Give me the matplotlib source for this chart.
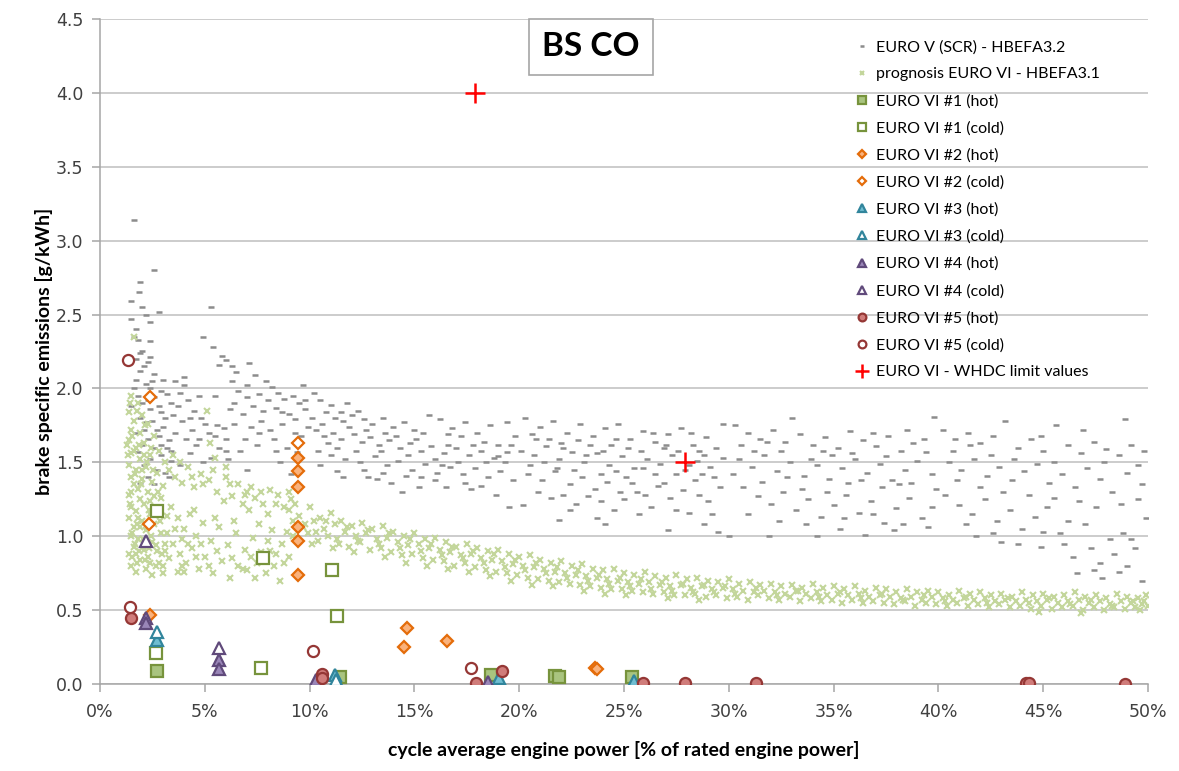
import matplotlib
matplotlib.use('Agg')
import matplotlib.pyplot as plt
from matplotlib.ticker import FuncFormatter, MultipleLocator

# ---- data (x = % of rated engine power, y = g/kWh) ----
euro5_pts = [
    # 1.3 - 3.5 %
    (1.6, 3.14), (2.6, 2.80), (1.9, 2.72), (1.85, 2.65), (1.5, 2.59), (2.0, 2.55), (2.8, 2.52),
    (1.5, 2.47), (2.4, 2.45), (2.2, 2.50), (1.7, 2.40), (1.6, 2.35), (2.4, 2.32), (1.8, 2.33),
    (2.0, 2.25), (1.9, 2.24), (2.4, 2.21), (2.3, 2.18), (1.9, 2.12), (2.6, 2.10), (1.7, 2.06),
    (2.2, 2.03), (2.4, 2.00), (2.9, 1.98), (1.8, 1.95), (2.6, 1.94), (3.2, 1.96), (2.0, 1.90),
    (1.5, 1.88), (2.4, 1.86), (2.9, 1.84), (3.5, 1.82), (1.9, 1.80), (2.2, 1.77), (3.0, 1.74),
    (2.7, 1.72), (1.7, 1.70), (2.3, 1.66), (3.3, 1.65), (2.0, 1.62), (2.6, 1.60), (1.8, 1.57),
    (2.9, 1.55), (2.4, 1.52), (3.4, 1.51), (2.1, 1.48), (2.7, 1.45), (3.1, 1.43), (2.3, 1.40),
    (1.9, 1.36), (3.0, 2.06), (3.4, 1.90), (2.8, 1.68), (3.2, 1.60),
    (1.7, 2.20), (2.1, 2.15), (2.5, 2.05), (1.6, 2.00), (2.3, 1.92), (2.8, 1.88), (3.1, 1.80),
    (2.5, 1.78), (2.1, 1.72), (2.9, 1.62), (3.3, 1.40), (2.6, 1.35),
    # 3.5 - 6 %
    (3.6, 2.05), (3.8, 1.97), (4.0, 2.02), (3.7, 1.88), (4.2, 1.92), (4.5, 1.85), (3.9, 1.78),
    (4.4, 1.72), (4.8, 1.80), (5.0, 1.76), (4.1, 1.66), (4.6, 1.62), (5.2, 1.70), (5.5, 1.68),
    (4.3, 1.56), (5.7, 1.60), (3.8, 1.48), (5.3, 1.53), (4.9, 2.35), (5.3, 2.55), (5.4, 2.28),
    (5.8, 2.22), (6.0, 2.19), (5.7, 2.16), (4.7, 1.95), (5.9, 1.73), (6.0, 1.58), (4.0, 2.08),
    (3.6, 1.70), (4.3, 1.80), (3.4, 1.58), (4.7, 1.66), (5.6, 1.75), (4.9, 1.50), (5.5, 1.95),
    (6.0, 1.66),
    # 6 - 10 %
    (6.3, 2.15), (6.5, 2.11), (7.1, 2.17), (7.4, 2.09), (7.9, 2.05), (8.2, 2.01), (9.7, 2.02),
    (6.6, 1.98), (7.0, 1.94), (7.6, 1.96), (8.5, 1.97), (8.8, 1.93), (9.2, 1.95), (9.5, 1.90),
    (6.2, 1.86), (6.8, 1.83), (7.3, 1.88), (7.8, 1.85), (8.4, 1.87), (9.0, 1.83), (9.8, 1.86),
    (6.4, 1.76), (7.2, 1.74), (7.7, 1.78), (8.1, 1.72), (8.7, 1.76), (9.3, 1.79), (9.9, 1.74),
    (6.9, 1.66), (7.5, 1.62), (8.3, 1.66), (8.9, 1.60), (9.6, 1.68), (6.1, 1.52), (8.6, 1.50),
    (9.4, 1.57), (7.0, 1.45), (9.1, 1.42), (6.4, 1.90), (7.0, 2.02), (7.6, 1.70), (8.0, 1.92),
    (8.7, 1.84), (9.3, 1.70), (9.8, 1.92), (6.7, 1.58), (8.4, 1.58), (6.3, 2.05),
    # 10 - 20 %
    (10.2, 1.97), (10.5, 1.92), (11.0, 1.89), (11.5, 1.84), (11.8, 1.90), (12.3, 1.85),
    (10.8, 1.84), (11.2, 1.80), (11.6, 1.78), (12.0, 1.82), (12.6, 1.79), (13.0, 1.76),
    (13.5, 1.80), (14.0, 1.74), (14.5, 1.77), (15.0, 1.72), (15.7, 1.82), (16.2, 1.79),
    (16.8, 1.73), (17.4, 1.77), (18.0, 1.70), (18.6, 1.75), (19.4, 1.77), (19.8, 1.68),
    (10.3, 1.72), (10.7, 1.68), (11.1, 1.70), (11.5, 1.66), (12.1, 1.69), (12.5, 1.64),
    (12.9, 1.67), (13.3, 1.62), (13.8, 1.65), (14.3, 1.60), (14.8, 1.63), (15.3, 1.58),
    (15.8, 1.61), (16.4, 1.56), (17.0, 1.60), (17.6, 1.55), (18.2, 1.58), (18.8, 1.53),
    (19.4, 1.57), (10.4, 1.58), (11.0, 1.55), (11.7, 1.52), (12.4, 1.50), (13.1, 1.54),
    (13.7, 1.48), (14.2, 1.51), (14.9, 1.45), (15.5, 1.49), (16.1, 1.43), (16.7, 1.47),
    (17.3, 1.42), (17.9, 1.46), (18.5, 1.40), (19.1, 1.44), (19.7, 1.38), (12.8, 1.40),
    (13.2, 1.39), (13.9, 1.36), (15.2, 1.33), (16.5, 1.33), (17.7, 1.32), (18.9, 1.28),
    (19.5, 1.20), (11.3, 1.44), (16.0, 1.38), (14.6, 1.41), (10.9, 1.63), (12.2, 1.58),
    (13.6, 1.70), (15.1, 1.66), (16.6, 1.69), (18.3, 1.64), (19.0, 1.62), (17.1, 1.50),
    (10.1, 1.80), (10.6, 1.76), (11.3, 1.60), (11.9, 1.74), (12.7, 1.72), (13.4, 1.58),
    (14.1, 1.68), (14.7, 1.55), (15.4, 1.70), (16.0, 1.52), (16.6, 1.62), (17.2, 1.68),
    (17.8, 1.62), (18.4, 1.50), (19.0, 1.54), (19.6, 1.62), (10.5, 1.48), (11.6, 1.40),
    (12.6, 1.45), (13.5, 1.43), (14.4, 1.30), (15.3, 1.40), (16.3, 1.48), (17.4, 1.36),
    (18.2, 1.34), (19.3, 1.50),
    # 20 - 30 %
    (20.3, 1.80), (21.0, 1.74), (21.6, 1.78), (22.3, 1.70), (22.9, 1.76), (23.5, 1.68),
    (24.1, 1.73), (24.7, 1.76), (25.3, 1.66), (25.9, 1.71), (26.5, 1.64), (27.1, 1.69),
    (27.7, 1.73), (28.3, 1.62), (28.9, 1.67), (29.7, 1.76), (20.1, 1.58), (20.7, 1.55),
    (21.3, 1.61), (21.9, 1.52), (22.5, 1.57), (23.1, 1.50), (23.7, 1.56), (24.3, 1.48),
    (24.9, 1.54), (25.5, 1.46), (26.1, 1.52), (26.7, 1.49), (27.3, 1.55), (27.9, 1.45),
    (28.5, 1.51), (29.1, 1.47), (29.7, 1.53), (20.4, 1.42), (21.1, 1.38), (21.7, 1.44),
    (22.4, 1.35), (23.0, 1.40), (23.6, 1.32), (24.2, 1.37), (24.8, 1.30), (25.4, 1.36),
    (26.0, 1.28), (26.6, 1.34), (27.2, 1.26), (27.8, 1.31), (28.4, 1.38), (29.0, 1.24),
    (29.6, 1.33), (20.2, 1.21), (21.9, 1.11), (23.7, 1.12), (22.7, 1.22), (24.5, 1.18),
    (25.7, 1.15), (26.3, 1.20), (27.1, 1.04), (28.1, 1.16), (28.8, 1.08), (29.5, 1.03),
    (30.0, 1.00), (25.0, 1.25), (23.3, 1.27), (21.5, 1.26), (20.8, 1.66), (22.0, 1.63),
    (26.9, 1.60), (28.6, 1.58), (24.4, 1.62), (20.6, 1.69), (21.4, 1.66), (22.1, 1.60),
    (22.8, 1.65), (23.4, 1.62), (24.0, 1.58), (24.6, 1.66), (25.2, 1.60), (25.8, 1.58),
    (26.4, 1.70), (27.0, 1.62), (27.6, 1.58), (28.2, 1.70), (28.8, 1.55), (29.4, 1.60),
    (20.5, 1.48), (21.2, 1.50), (21.8, 1.46), (22.6, 1.45), (23.2, 1.55), (23.9, 1.42),
    (24.6, 1.44), (25.1, 1.40), (25.9, 1.46), (26.5, 1.42), (27.5, 1.42), (28.1, 1.48),
    (28.7, 1.42), (29.3, 1.40), (20.9, 1.30), (22.1, 1.28), (23.9, 1.24), (25.6, 1.30),
    (26.9, 1.36), (27.5, 1.18), (28.6, 1.28), (29.2, 1.15), (22.4, 1.18), (24.1, 1.08),
    # 30 - 40 %
    (30.3, 1.75), (30.9, 1.70), (31.5, 1.66), (32.1, 1.72), (32.7, 1.64), (33.4, 1.69),
    (34.0, 1.62), (34.6, 1.67), (35.2, 1.60), (35.8, 1.71), (36.4, 1.65), (37.0, 1.61),
    (37.6, 1.68), (38.2, 1.58), (38.8, 1.63), (39.4, 1.57), (39.8, 1.81), (33.0, 1.80),
    (30.5, 1.52), (31.1, 1.47), (31.7, 1.55), (32.3, 1.44), (32.9, 1.50), (33.6, 1.41),
    (34.2, 1.48), (34.8, 1.39), (35.4, 1.46), (36.0, 1.52), (36.6, 1.43), (37.2, 1.49),
    (37.8, 1.38), (38.4, 1.45), (39.0, 1.51), (39.7, 1.42), (30.7, 1.33), (31.4, 1.27),
    (32.0, 1.22), (32.6, 1.30), (33.2, 1.18), (33.8, 1.25), (34.4, 1.13), (35.0, 1.21),
    (35.6, 1.28), (36.2, 1.16), (36.8, 1.24), (37.4, 1.09), (38.0, 1.19), (38.6, 1.26),
    (39.2, 1.12), (31.9, 1.00), (34.2, 1.00), (35.3, 1.05), (36.5, 1.01), (37.9, 1.04),
    (39.5, 1.06), (31.2, 1.58), (34.9, 1.55), (38.1, 1.35), (30.6, 1.62), (31.8, 1.64),
    (32.5, 1.58), (33.9, 1.52), (34.5, 1.58), (35.9, 1.56), (36.9, 1.70), (37.5, 1.54),
    (38.5, 1.72), (39.3, 1.66), (30.2, 1.42), (31.6, 1.37), (32.8, 1.40), (33.5, 1.32),
    (34.7, 1.30), (35.7, 1.36), (36.3, 1.38), (37.3, 1.33), (38.7, 1.36), (39.9, 1.32),
    (30.9, 1.15), (32.4, 1.10), (33.7, 1.08), (35.5, 1.12), (36.9, 1.15), (38.3, 1.08),
    (39.7, 1.20),
    # 40 - 50 %
    (40.2, 1.72), (40.8, 1.66), (41.4, 1.70), (42.0, 1.63), (42.6, 1.68), (43.2, 1.78),
    (43.8, 1.60), (44.4, 1.66), (45.0, 1.58), (45.6, 1.75), (46.2, 1.62), (46.8, 1.56),
    (47.4, 1.64), (48.0, 1.59), (48.6, 1.55), (48.9, 1.79), (49.5, 1.48), (40.5, 1.50),
    (41.1, 1.45), (41.7, 1.52), (42.3, 1.41), (42.9, 1.47), (43.5, 1.38), (44.1, 1.44),
    (44.7, 1.49), (45.3, 1.36), (45.9, 1.42), (46.5, 1.33), (47.1, 1.46), (47.7, 1.39),
    (48.3, 1.30), (49.0, 1.43), (49.7, 1.35), (40.3, 1.28), (41.0, 1.21), (41.6, 1.15),
    (42.2, 1.25), (42.8, 1.10), (43.4, 1.18), (44.0, 1.05), (44.6, 1.13), (45.2, 1.20),
    (45.8, 1.02), (46.4, 0.86), (46.6, 0.75), (47.0, 1.08), (47.4, 0.77), (47.7, 0.82),
    (47.8, 0.72), (48.2, 0.98), (48.6, 0.76), (49.0, 0.80), (49.4, 0.92), (49.7, 0.70),
    (49.9, 1.12), (44.9, 0.93), (43.0, 0.96), (41.8, 1.00), (46.0, 0.95), (48.8, 1.02),
    (40.7, 1.58), (41.5, 1.62), (42.5, 1.55), (43.6, 1.52), (44.9, 1.68), (45.5, 1.50),
    (46.9, 1.72), (47.9, 1.50), (49.2, 1.62), (49.8, 1.58), (40.9, 1.38), (42.0, 1.33),
    (43.1, 1.30), (44.3, 1.28), (45.5, 1.26), (46.7, 1.24), (47.5, 1.20), (48.7, 1.22),
    (49.5, 1.25), (41.3, 1.08), (42.6, 1.02), (43.8, 0.95), (45.0, 1.03), (46.2, 1.10),
    (47.3, 0.92), (48.4, 0.88), (49.2, 0.98),
]

prog6_pts = [
    # 1.3 - 3.2 %
    (1.6, 2.35), (1.5, 1.95), (1.8, 1.90), (1.4, 1.84), (2.0, 1.82), (1.6, 1.78), (2.3, 1.76),
    (1.5, 1.72), (1.9, 1.70), (2.6, 1.68), (1.4, 1.65), (2.1, 1.63), (1.7, 1.60), (2.8, 1.58),
    (1.5, 1.56), (2.4, 1.55), (1.9, 1.52), (3.1, 1.50), (1.4, 1.48), (2.2, 1.47), (1.7, 1.45),
    (2.7, 1.43), (1.5, 1.40), (2.0, 1.39), (2.5, 1.37), (1.6, 1.35), (3.0, 1.34), (1.8, 1.32),
    (2.3, 1.30), (1.4, 1.28), (2.6, 1.27), (1.9, 1.25), (2.1, 1.22), (1.5, 1.20), (2.8, 1.19),
    (1.7, 1.17), (2.4, 1.15), (3.2, 1.14), (1.4, 1.12), (2.0, 1.10), (2.6, 1.08), (1.6, 1.06),
    (2.2, 1.04), (2.9, 1.02), (1.5, 1.00), (1.8, 0.98), (2.5, 0.96), (3.1, 0.95), (1.6, 0.93),
    (2.1, 0.91), (2.7, 0.90), (1.4, 0.88), (2.3, 0.86), (1.9, 0.84), (2.8, 0.82), (1.5, 0.80),
    (2.2, 0.78), (3.0, 0.80), (1.7, 0.76), (2.5, 0.74), (1.6, 1.58), (2.0, 1.45), (1.8, 1.12),
    (2.4, 1.24), (1.5, 1.30), (2.1, 1.55), (1.7, 0.88), (2.9, 1.26), (1.3, 1.62), (1.9, 1.06),
    (1.45, 1.90), (1.75, 1.85), (2.15, 1.75), (1.55, 1.68), (1.85, 1.62), (2.45, 1.60),
    (1.35, 1.55), (2.25, 1.50), (1.65, 1.42), (2.55, 1.45), (1.95, 1.35), (2.75, 1.30),
    (1.45, 1.22), (2.35, 1.18), (1.75, 1.08), (2.85, 1.10), (1.55, 1.02), (2.45, 1.00),
    (2.05, 0.98), (1.65, 0.95), (2.65, 0.94), (1.85, 0.90), (2.35, 0.92), (2.95, 0.88),
    (1.55, 0.86), (2.15, 0.84), (2.65, 0.80), (1.75, 0.82), (3.0, 0.75), (2.4, 0.82),
    # 3 - 9 %
    (3.3, 1.45), (3.6, 1.40), (3.9, 1.36), (4.2, 1.47), (4.5, 1.33), (4.8, 1.42), (5.1, 1.85),
    (5.25, 1.63), (5.5, 1.53), (6.0, 1.47), (5.2, 1.38), (5.6, 1.30), (6.3, 1.27), (6.6, 1.35),
    (7.0, 1.30), (7.2, 1.33), (7.4, 1.26), (7.8, 1.22), (8.1, 1.31), (8.5, 1.28), (8.8, 1.20),
    (9.1, 1.25), (6.8, 1.22), (5.9, 1.24), (3.4, 1.20), (3.7, 1.12), (4.0, 1.05), (4.3, 1.15),
    (4.6, 1.00), (4.9, 1.09), (5.3, 0.97), (5.7, 1.06), (6.1, 0.94), (6.5, 1.02), (6.9, 0.91),
    (7.3, 0.99), (7.7, 0.89), (8.0, 0.97), (8.4, 0.88), (8.7, 0.95), (9.0, 0.86), (3.5, 0.95),
    (3.8, 0.88), (4.1, 0.82), (4.4, 0.92), (4.7, 0.78), (5.0, 0.86), (5.4, 0.75), (5.8, 0.83),
    (6.2, 0.72), (6.6, 0.80), (7.0, 0.77), (7.5, 0.82), (7.9, 0.75), (8.3, 0.80), (8.6, 0.70),
    (3.2, 1.02), (3.9, 0.98), (4.5, 1.18), (5.5, 1.12), (6.4, 1.10), (7.6, 1.08), (8.2, 1.04),
    (9.2, 1.00), (3.3, 0.85), (4.0, 0.76), (6.0, 1.40), (7.1, 1.18), (8.0, 1.15),
    (3.5, 1.55), (3.8, 1.50), (4.4, 1.40), (4.9, 1.35), (5.4, 1.45), (6.2, 1.35), (6.9, 1.28),
    (7.7, 1.30), (8.4, 1.22), (9.0, 1.30), (3.6, 1.05), (4.2, 0.95), (4.8, 0.95), (5.6, 0.90),
    (6.3, 0.85), (7.2, 0.86), (8.1, 0.90), (8.8, 0.82), (3.9, 0.80), (4.6, 0.86), (5.2, 0.80),
    (6.8, 0.78), (7.4, 0.72), (3.1, 0.90), (3.7, 0.76),
    # 9 - 50 % band
    (9.0, 1.18), (9.2, 1.10), (8.9, 1.03), (9.5, 1.14), (9.7, 1.06), (9.4, 0.98),
    (10.0, 1.20), (10.2, 1.10), (9.9, 1.02), (10.1, 0.95), (10.5, 1.12), (10.7, 1.05),
    (10.4, 0.97), (11.0, 1.16), (11.2, 1.08), (10.9, 1.00), (11.1, 0.92), (11.5, 1.10),
    (11.7, 1.03), (11.4, 0.95), (12.0, 1.07), (12.2, 1.00), (11.9, 0.93), (12.1, 0.89),
    (12.5, 1.09), (12.7, 1.02), (12.4, 0.96), (13.0, 1.05), (13.2, 0.98), (12.9, 0.91),
    (13.5, 1.07), (13.7, 0.99), (13.4, 0.92), (13.6, 0.86), (14.0, 1.03), (14.2, 0.96),
    (13.9, 0.89), (14.5, 1.00), (14.7, 0.94), (14.4, 0.87), (14.6, 0.82), (15.0, 1.02),
    (15.2, 0.95), (14.9, 0.88), (15.5, 0.98), (15.7, 0.92), (15.4, 0.85), (15.6, 0.80),
    (16.0, 0.99), (16.2, 0.91), (15.9, 0.84), (16.5, 0.96), (16.7, 0.89), (16.4, 0.83),
    (16.6, 0.78), (17.0, 0.93), (17.2, 0.87), (16.9, 0.80), (17.5, 0.95), (17.7, 0.88),
    (17.4, 0.82), (17.6, 0.76), (18.0, 0.92), (18.2, 0.85), (17.9, 0.79), (18.5, 0.90),
    (18.7, 0.84), (18.4, 0.77), (18.6, 0.73), (19.0, 0.91), (19.2, 0.83), (18.9, 0.76),
    (19.5, 0.88), (19.7, 0.81), (19.4, 0.75), (19.6, 0.70), (20.0, 0.86), (20.2, 0.80),
    (19.9, 0.74), (20.5, 0.87), (20.7, 0.79), (20.4, 0.72), (20.6, 0.67), (21.0, 0.84),
    (21.2, 0.78), (20.9, 0.71), (21.5, 0.82), (21.7, 0.76), (21.4, 0.70), (21.6, 0.66),
    (22.0, 0.83), (22.2, 0.75), (21.9, 0.69), (22.5, 0.80), (22.7, 0.74), (22.4, 0.68),
    (23.0, 0.81), (23.2, 0.73), (22.9, 0.67), (23.1, 0.63), (23.5, 0.78), (23.7, 0.72),
    (23.4, 0.66), (24.0, 0.77), (24.2, 0.71), (23.9, 0.65), (24.1, 0.61), (24.5, 0.78),
    (24.7, 0.70), (24.4, 0.64), (25.0, 0.75), (25.2, 0.69), (24.9, 0.64), (25.1, 0.60),
    (25.5, 0.74), (25.7, 0.68), (25.4, 0.63), (26.0, 0.76), (26.2, 0.69), (25.9, 0.62),
    (26.5, 0.73), (26.7, 0.67), (26.4, 0.61), (27.0, 0.72), (27.2, 0.66), (26.9, 0.62),
    (27.1, 0.58), (27.5, 0.74), (27.7, 0.67), (27.4, 0.60), (28.0, 0.71), (28.2, 0.65),
    (27.9, 0.60), (28.5, 0.72), (28.7, 0.66), (28.4, 0.61), (28.6, 0.57), (29.0, 0.70),
    (29.2, 0.64), (28.9, 0.59), (29.5, 0.69), (29.7, 0.65), (29.4, 0.60), (30.0, 0.71),
    (30.2, 0.64), (29.9, 0.58), (30.5, 0.68), (30.7, 0.63), (30.4, 0.59), (31.0, 0.69),
    (31.2, 0.62), (30.9, 0.57), (31.5, 0.67), (31.7, 0.63), (31.4, 0.60), (32.0, 0.68),
    (32.2, 0.62), (31.9, 0.58), (32.5, 0.66), (32.7, 0.61), (32.4, 0.57), (33.0, 0.67),
    (33.2, 0.63), (32.9, 0.59), (33.5, 0.65), (33.7, 0.61), (33.4, 0.56), (34.0, 0.68),
    (34.2, 0.62), (33.9, 0.58), (34.5, 0.65), (34.7, 0.60), (34.4, 0.56), (35.0, 0.66),
    (35.2, 0.61), (34.9, 0.57), (35.5, 0.64), (35.7, 0.60), (35.4, 0.55), (36.0, 0.66),
    (36.2, 0.61), (35.9, 0.57), (36.5, 0.63), (36.7, 0.59), (36.4, 0.55), (37.0, 0.65),
    (37.2, 0.60), (36.9, 0.56), (37.5, 0.64), (37.7, 0.59), (37.4, 0.55), (38.0, 0.62),
    (38.2, 0.58), (37.9, 0.54), (38.5, 0.64), (38.7, 0.59), (38.4, 0.56), (39.0, 0.62),
    (39.2, 0.57), (38.9, 0.53), (39.5, 0.63), (39.7, 0.59), (39.4, 0.55), (40.0, 0.62),
    (40.2, 0.58), (39.9, 0.54), (40.5, 0.60), (40.7, 0.57), (40.4, 0.53), (41.0, 0.63),
    (41.2, 0.58), (40.9, 0.55), (41.5, 0.61), (41.7, 0.57), (41.4, 0.53), (42.0, 0.62),
    (42.2, 0.58), (41.9, 0.54), (42.5, 0.60), (42.7, 0.56), (42.4, 0.52), (43.0, 0.61),
    (43.2, 0.57), (42.9, 0.54), (43.5, 0.59), (43.7, 0.56), (43.4, 0.52), (44.0, 0.62),
    (44.2, 0.57), (43.9, 0.53), (44.5, 0.60), (44.7, 0.56), (44.4, 0.51), (45.0, 0.61),
    (45.2, 0.57), (44.9, 0.53), (45.5, 0.59), (45.7, 0.55), (45.4, 0.51), (46.0, 0.60),
    (46.2, 0.56), (45.9, 0.52), (46.5, 0.62), (46.7, 0.57), (46.4, 0.53), (47.0, 0.59),
    (47.2, 0.55), (46.9, 0.50), (47.5, 0.60), (47.7, 0.56), (47.4, 0.52), (48.0, 0.58),
    (48.2, 0.54), (47.9, 0.50), (48.5, 0.61), (48.7, 0.56), (48.4, 0.52), (49.0, 0.59),
    (49.2, 0.55), (48.9, 0.51), (49.5, 0.58), (49.7, 0.54), (49.4, 0.52), (49.9, 0.60),
    (49.8, 0.56), (50.0, 0.53),
    (9.3, 1.22), (9.8, 1.08), (10.3, 1.03), (10.8, 1.10), (11.3, 0.98), (11.8, 1.06),
    (12.3, 0.97), (12.8, 1.04), (13.3, 0.95), (13.8, 1.02), (14.3, 0.92), (14.8, 0.98),
    (15.3, 0.90), (15.8, 0.95), (16.3, 0.87), (16.8, 0.93), (17.3, 0.85), (17.8, 0.90),
    (18.3, 0.82), (18.8, 0.88), (19.3, 0.79), (19.8, 0.84), (20.3, 0.77), (20.8, 0.82),
    (21.3, 0.75), (21.8, 0.79), (22.3, 0.72), (22.8, 0.77), (23.3, 0.70), (23.8, 0.74),
    (24.3, 0.68), (24.8, 0.72), (25.3, 0.66), (25.8, 0.71), (26.3, 0.64), (26.8, 0.69),
    (27.3, 0.63), (27.8, 0.68), (28.3, 0.62), (28.8, 0.67), (29.3, 0.62), (29.8, 0.66),
    (30.3, 0.61), (31.3, 0.65), (32.3, 0.60), (33.3, 0.63), (34.3, 0.59), (35.3, 0.62),
    (36.3, 0.58), (37.3, 0.61), (38.3, 0.57), (39.3, 0.60), (40.3, 0.56), (41.3, 0.59),
    (42.3, 0.55), (43.3, 0.58), (44.3, 0.55), (45.3, 0.58), (46.3, 0.54), (47.3, 0.57),
    (48.3, 0.53), (49.3, 0.56), (49.6, 0.50), (46.8, 0.48), (44.8, 0.49),
]

v1_hot_x = [2.7, 11.45, 18.65, 21.7, 21.9, 25.4]
v1_hot_y = [0.09, 0.05, 0.06, 0.055, 0.05, 0.045]
v1_cold_x = [2.7, 2.65, 7.8, 7.68, 11.07, 11.3]
v1_cold_y = [1.17, 0.21, 0.85, 0.11, 0.77, 0.46]

v2_hot_x = [2.4, 9.43, 9.43, 9.43, 9.43, 9.43, 9.43, 14.63, 14.5, 16.54, 23.6, 23.7]
v2_hot_y = [0.47, 1.53, 1.44, 1.335, 1.06, 0.97, 0.74, 0.38, 0.25, 0.29, 0.11, 0.10]
v2_cold_x = [2.39, 2.35, 9.43]
v2_cold_y = [1.94, 1.08, 1.63]

v3_hot_x = [2.73, 11.2, 11.3, 19.05, 25.5]
v3_hot_y = [0.30, 0.06, 0.015, 0.04, 0.02]
v3_cold_x = [2.7, 11.25]
v3_cold_y = [0.35, 0.03]

v4_hot_x = [2.2, 2.2, 5.7, 5.7, 10.3, 18.5]
v4_hot_y = [0.45, 0.41, 0.16, 0.10, 0.03, 0.015]
v4_cold_x = [2.2, 5.7]
v4_cold_y = [0.97, 0.245]

v5_hot_x = [1.48, 10.6, 10.6, 17.94, 19.2, 25.9, 27.9, 31.3, 44.2, 44.3, 48.9]
v5_hot_y = [0.45, 0.07, 0.04, 0.01, 0.09, 0.01, 0.005, 0.005, 0.005, 0.005, 0.0]
v5_cold_x = [1.34, 1.43, 10.18, 17.7]
v5_cold_y = [2.19, 0.52, 0.22, 0.11]

limit_x = [17.9, 27.9]
limit_y = [4.0, 1.5]

labels = ['EURO V (SCR) - HBEFA3.2', 'prognosis EURO VI - HBEFA3.1',
          'EURO VI #1 (hot)', 'EURO VI #1 (cold)', 'EURO VI #2 (hot)', 'EURO VI #2 (cold)',
          'EURO VI #3 (hot)', 'EURO VI #3 (cold)', 'EURO VI #4 (hot)', 'EURO VI #4 (cold)',
          'EURO VI #5 (hot)', 'EURO VI #5 (cold)', 'EURO VI - WHDC limit values']

# ---- figure ----
fig = plt.figure(figsize=(11.79, 7.71), dpi=100)
ax = fig.add_axes([100 / 1179, 87 / 771, 1048 / 1179, 665 / 771])

e5x, e5y = zip(*euro5_pts)
p6x, p6y = zip(*prog6_pts)

ax.plot(e5x, e5y, ls='none', marker='_', ms=4.5, mew=1.8, color='#8c8c8c', label=labels[0], zorder=3)
ax.plot(p6x, p6y, ls='none', marker='x', ms=4.8, mew=1.5, color='#c3d69b', label=labels[1], zorder=3)

def series(x, y, marker, face, edge, lab, ms=8):
    ax.plot(x, y, ls='none', marker=marker, ms=ms, mfc=face, mec=edge, mew=1.6,
            label=lab, zorder=5)

series(v1_hot_x, v1_hot_y, 's', '#a9c47f', '#77933c', labels[2])
series(v1_cold_x, v1_cold_y, 's', 'white', '#77933c', labels[3])
series(v2_hot_x, v2_hot_y, 'D', '#fab27c', '#e46c0a', labels[4], ms=6.5)
series(v2_cold_x, v2_cold_y, 'D', 'white', '#e46c0a', labels[5], ms=6.5)
series(v3_hot_x, v3_hot_y, '^', '#6fbdd1', '#31859c', labels[6], ms=9)
series(v3_cold_x, v3_cold_y, '^', 'white', '#31859c', labels[7], ms=9)
series(v4_hot_x, v4_hot_y, '^', '#9a86b8', '#604a7b', labels[8], ms=9)
series(v4_cold_x, v4_cold_y, '^', 'white', '#604a7b', labels[9], ms=9)
series(v5_hot_x, v5_hot_y, 'o', '#d07c7a', '#953735', labels[10])
series(v5_cold_x, v5_cold_y, 'o', 'white', '#953735', labels[11])
ax.plot(limit_x, limit_y, ls='none', marker='+', ms=14, mew=1.8, color='#ff0000',
        label=labels[12], zorder=6)

# axes styling
ax.set_xlim(0, 50)
ax.set_ylim(0, 4.5)
ax.xaxis.set_major_locator(MultipleLocator(5))
ax.yaxis.set_major_locator(MultipleLocator(0.5))
ax.xaxis.set_major_formatter(FuncFormatter(lambda v, p: f'{v:.0f}%'))
ax.yaxis.set_major_formatter(FuncFormatter(lambda v, p: f'{v:.1f}'))
ax.grid(axis='y', color='#bfbfbf', lw=1.1)
ax.set_axisbelow(True)
for s in ['top', 'right']:
    ax.spines[s].set_visible(False)
for s in ['left', 'bottom']:
    ax.spines[s].set_color('#a6a6a6')
    ax.spines[s].set_linewidth(1.1)
ax.tick_params(axis='both', colors='#a6a6a6', labelcolor='#404040', labelsize=12.5,
               length=6, width=1.1)
ax.tick_params(axis='x', pad=8)
ax.tick_params(axis='y', pad=6)

ax.set_xlabel('cycle average engine power [% of rated engine power]', fontsize=14,
              fontweight='bold', family='Lato', labelpad=14)
ax.set_ylabel('brake specific emissions [g/kWh]', fontsize=14, fontweight='bold',
              family='Lato', labelpad=2)

ax.text(0.4685, 0.958, 'BS CO', transform=ax.transAxes, ha='center', va='center',
        fontsize=24, fontweight='bold', family='Lato', zorder=7,
        bbox=dict(boxstyle='square,pad=0.4', facecolor='white', edgecolor='#a6a6a6', lw=1.2))

leg = ax.legend(loc='upper left', bbox_to_anchor=(0.713, 0.978), frameon=False,
                prop={'family': 'Lato', 'size': 11.5}, handlelength=1.0, handletextpad=0.4,
                labelspacing=0.8, borderaxespad=0.0, markerscale=0.7)

fig.savefig('out.png', dpi=100, facecolor='white')
